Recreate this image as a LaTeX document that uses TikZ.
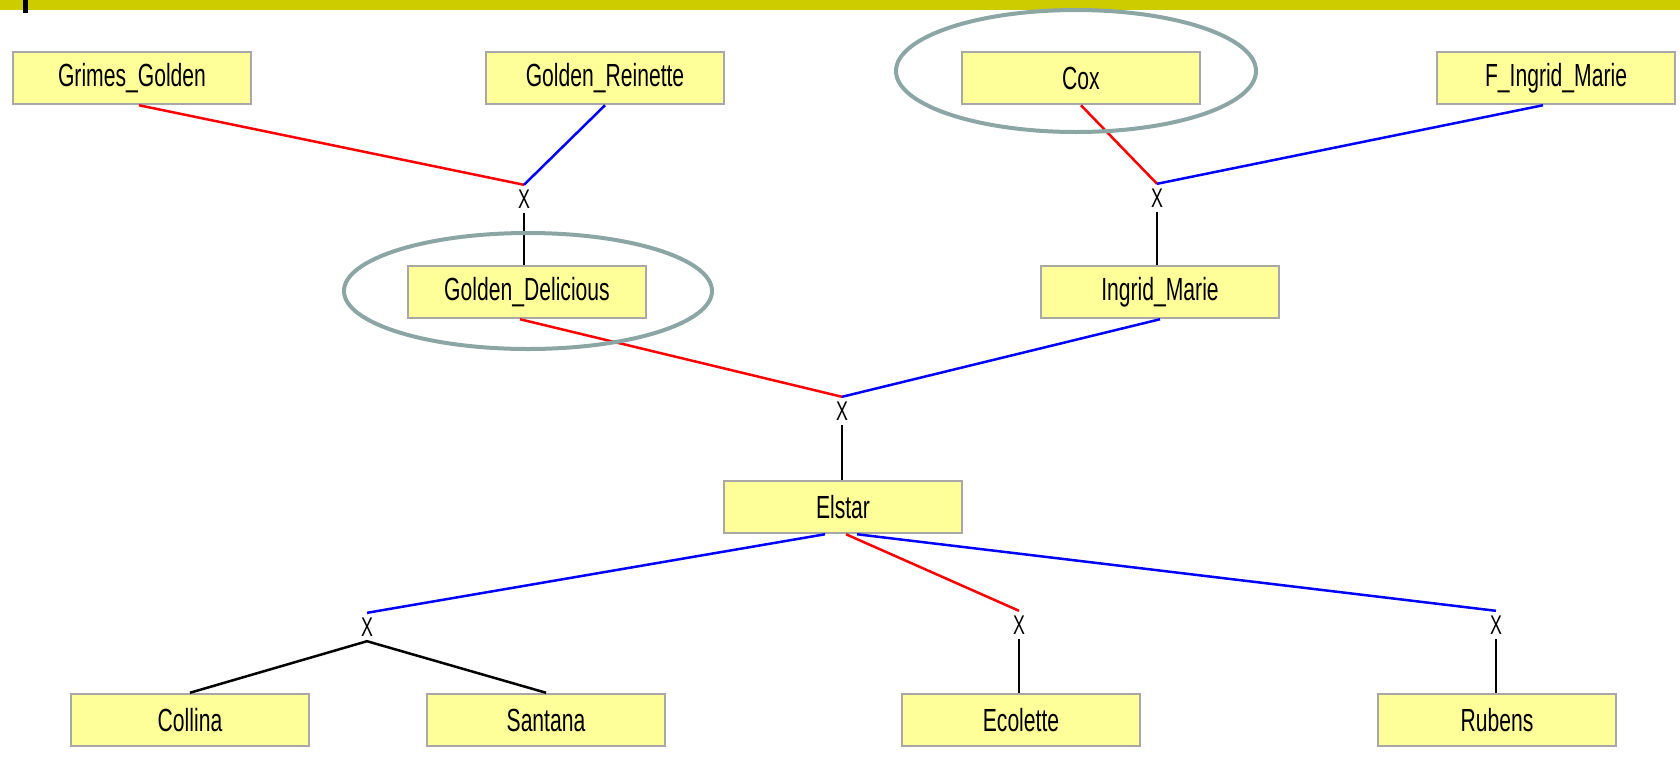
\documentclass[tikz,border=0pt]{standalone}
\usepackage{fontspec}
\setmainfont[FakeStretch=0.66]{Liberation Sans}
\definecolor{boxyellow}{HTML}{FFFF99}
\definecolor{boxgray}{HTML}{A8A8A8}
\definecolor{ringgray}{HTML}{8CA5A5}
\definecolor{barolive}{HTML}{CCCC00}
\begin{document}
\begin{tikzpicture}[x=1pt,y=-1pt,
    cultivar/.style={draw=boxgray,fill=boxyellow,line width=2.5pt,
      minimum width=238pt,minimum height=52pt,inner sep=0pt,
      font=\fontsize{32}{34}\selectfont},
    cross/.style={inner sep=0pt,minimum height=28pt,
      font=\fontsize{27}{27}\selectfont},
    mother/.style={red,line width=2.5pt},
    father/.style={blue,line width=2.5pt},
    child/.style={black,line width=2.5pt},
    ring/.style={draw=ringgray,line width=4pt}]

      \useasboundingbox (0,0) rectangle (1680,758);
      \fill[barolive] (0,0) rectangle (1680,10);
      \fill (23,0) rectangle (28,13);

      \node[cultivar] (gg) at (132,78) {Grimes\_Golden};
      \node[cultivar] (gr) at (605,78) {Golden\_Reinette};
      \node[cultivar] (cox) at (1081,78) {Cox};
      \node[cultivar] (fim) at (1556,78) {F\_Ingrid\_Marie};
      \node[cultivar] (gd) at (527,292) {Golden\_Delicious};
      \node[cultivar] (im) at (1160,292) {Ingrid\_Marie};
      \node[cultivar] (el) at (843,507) {Elstar};
      \node[cultivar] (col) at (190,720) {Collina};
      \node[cultivar] (san) at (546,720) {Santana};
      \node[cultivar] (eco) at (1021,720) {Ecolette};
      \node[cultivar] (rub) at (1497,720) {Rubens};

      \node[cross] (x1) at (524,199) {X};
      \node[cross] (x2) at (1157,198) {X};
      \node[cross] (x3) at (842,411) {X};
      \node[cross] (x4) at (367,627) {X};
      \node[cross] (x5) at (1019,625) {X};
      \node[cross] (x6) at (1496,625) {X};

      \draw[mother] ([xshift=7pt]gg.south) -- (x1.north);
      \draw[father] (gr.south) -- (x1.north);
      \draw[mother] (cox.south) -- (x2.north);
      \draw[father] ([xshift=-13pt]fim.south) -- (x2.north);
      \draw[mother] ([xshift=-7pt]gd.south) -- (x3.north);
      \draw[father] (im.south) -- (x3.north);
      \draw[father] ([xshift=-18pt]el.south) -- (x4.north);
      \draw[mother] ([xshift=3pt]el.south) -- (x5.north);
      \draw[father] ([xshift=14pt]el.south) -- (x6.north);

      \foreach \s/\t in {x1/gd, x2/im, x3/el, x5/eco, x6/rub} {
       \draw[child] (\s.south) -- (\s.south |- \t.north);}
      \draw[child] (col.north) -- (x4.south) -- (san.north);

      \draw[ring] (528,291) ellipse [x radius=184, y radius=58];
      \draw[ring] (1076,71) ellipse [x radius=180, y radius=61];
    \end{tikzpicture}
\end{document}
